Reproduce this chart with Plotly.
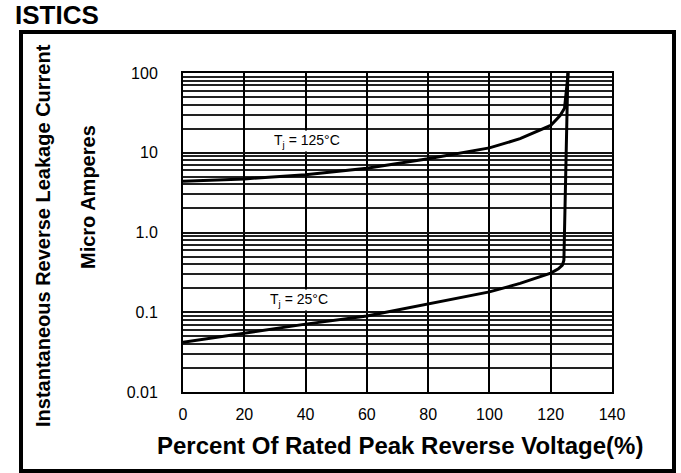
import plotly.graph_objects as go

# Data
x_125 = [0, 20, 40, 60, 80, 100, 110, 120, 123, 124.5, 125.7]
y_125 = [4.4, 4.7, 5.3, 6.4, 8.4, 11.5, 15, 22, 29, 36, 100]

x_25 = [0, 20, 40, 60, 80, 100, 110, 120, 122.5, 123.8, 124.3, 125.6]
y_25 = [0.042, 0.055, 0.071, 0.09, 0.126, 0.18, 0.23, 0.31, 0.35, 0.39, 0.45, 100]

x_ticks = [0, 20, 40, 60, 80, 100, 120, 140]
y_ticks = [0.01, 0.1, 1, 10, 100]
y_ticktext = ["0.01", "0.1", "1.0", "10", "100"]
y_minor = [m * d for d in [0.01, 0.1, 1, 10] for m in range(2, 10)]

fig = go.Figure()
fig.add_trace(go.Scatter(x=x_125, y=y_125, mode="lines",
                         line=dict(color="black", width=3), showlegend=False))
fig.add_trace(go.Scatter(x=x_25, y=y_25, mode="lines",
                         line=dict(color="black", width=3), showlegend=False))

L, R, T, B = 183, 612, 73, 392
W, H = 681, 473
pw, ph = R - L, B - T

def px(xp):
    return (xp - L) / pw

def py(yp):
    return (B - yp) / ph

fig.update_layout(
    width=W, height=H, autosize=False,
    margin=dict(l=L, r=W - R, t=T, b=H - B),
    plot_bgcolor="white", paper_bgcolor="white",
    font=dict(family="Liberation Sans, Arial, sans-serif", color="black"),
    xaxis=dict(range=[0, 140], tickvals=x_ticks, showgrid=True,
               gridcolor="black", gridwidth=2, zeroline=False,
               showline=True, linecolor="black", linewidth=2, mirror=True,
               tickfont=dict(size=16), ticks="", ticklabelstandoff=7),
    yaxis=dict(type="log", range=[-2, 2], tickvals=y_ticks, ticktext=y_ticktext,
               showgrid=True, gridcolor="#111", gridwidth=2, zeroline=False,
               showline=True, linecolor="black", linewidth=2, mirror=True,
               tickfont=dict(size=16), ticks="", ticklabelstandoff=20,
               minor=dict(tickvals=y_minor, showgrid=True, gridcolor="#222",
                          gridwidth=1.5, ticks="")),
)

# outer frame
fig.add_shape(type="rect", xref="paper", yref="paper",
              x0=px(21), x1=px(674), y0=py(471), y1=py(32),
              line=dict(color="black", width=4), layer="below")

fig.add_annotation(xref="paper", yref="paper", x=px(13), y=py(15),
                   xanchor="left", yanchor="middle", showarrow=False,
                   text="<b>ISTICS</b>", font=dict(size=26, family="Liberation Sans, Arial"))

fig.add_annotation(xref="paper", yref="paper", x=px(400), y=py(445),
                   xanchor="center", yanchor="middle", showarrow=False,
                   text="<b>Percent Of Rated Peak Reverse Voltage(%)</b>",
                   font=dict(size=24, family="Liberation Sans, Arial"))

fig.add_annotation(xref="paper", yref="paper", x=px(43), y=py(236),
                   xanchor="center", yanchor="middle", showarrow=False, textangle=-90,
                   text="<b>Instantaneous Reverse Leakage Current</b>",
                   font=dict(size=20, family="Liberation Sans Narrow, Arial Narrow, sans-serif"))
fig.add_annotation(xref="paper", yref="paper", x=px(88), y=py(197),
                   xanchor="center", yanchor="middle", showarrow=False, textangle=-90,
                   text="<b>Micro Amperes</b>",
                   font=dict(size=20, family="Liberation Sans Narrow, Arial Narrow, sans-serif"))

fig.add_annotation(x=40.5, y=1.15, yref="y", xref="x", showarrow=False,
                   text="T<sub>j</sub> = 125°C", font=dict(size=14), bgcolor="white")
fig.add_annotation(x=38, y=-0.85, yref="y", xref="x", showarrow=False,
                   text="T<sub>j</sub> = 25°C", font=dict(size=14), bgcolor="white")

fig.write_html("out.html", config={"displayModeBar": False},
               post_script="document.body.style.margin='0';document.body.style.overflow='hidden';")
